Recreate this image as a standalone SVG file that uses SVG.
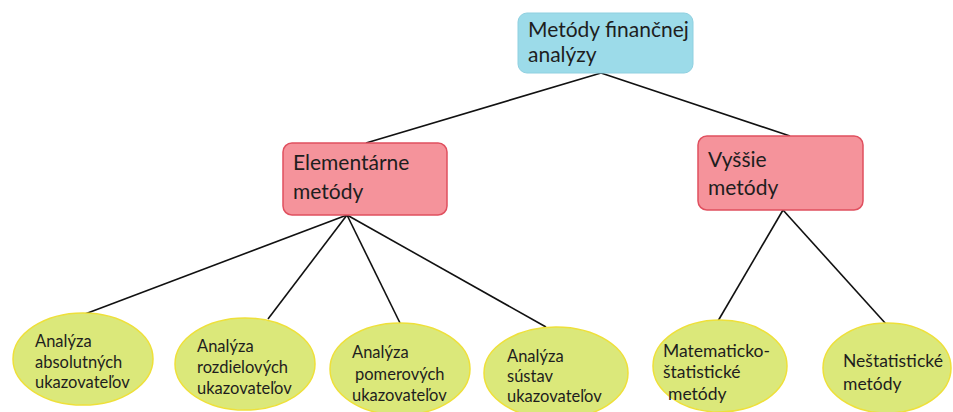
<svg xmlns="http://www.w3.org/2000/svg" width="953" height="412" viewBox="0 0 953 412">
<style>
text{font-family:Lato,"Liberation Sans","DejaVu Sans",sans-serif;fill:#1e1e1e}
.top{fill:#9cdbe9;stroke:#8fd0e0;stroke-width:1}
.mid{fill:#f5939b;stroke:#e0505f;stroke-width:1.5}
.leaf{fill:#dbe87a;stroke:#eee03a;stroke-width:1.5}
.c line{stroke:#111;stroke-width:1.6}
.t1{font-size:21px}
.t2{font-size:21px}
.t3{font-size:16.5px}
.t4{font-size:17.5px}
</style>
<rect width="953" height="412" fill="#fff"/>
<g class="c">
<line x1="601" y1="73" x2="366" y2="143"/>
<line x1="601" y1="73" x2="790" y2="136"/>
<line x1="347" y1="215" x2="85" y2="314"/>
<line x1="347" y1="215" x2="268" y2="319"/>
<line x1="347" y1="215" x2="400" y2="323"/>
<line x1="347" y1="215" x2="546" y2="327"/>
<line x1="783" y1="210" x2="718" y2="321"/>
<line x1="783" y1="210" x2="886" y2="324"/>
</g>
<g id="n-root">
<rect class="top" x="518" y="13" width="175" height="60" rx="9"/>
<text class="t1" x="528" y="37">Metódy finančnej</text>
<text class="t1" x="528" y="62">analýzy</text>
</g>
<g id="n-elem">
<rect class="mid" x="283" y="143" width="164" height="72" rx="9"/>
<text class="t2" x="293" y="170">Elementárne</text>
<text class="t2" x="293" y="199">metódy</text>
</g>
<g id="n-vyssie">
<rect class="mid" x="698" y="136" width="165" height="74" rx="9"/>
<text class="t2" x="708" y="167">Vyššie</text>
<text class="t2" x="708" y="195">metódy</text>
</g>
<g id="n-abs">
<ellipse class="leaf" cx="83" cy="359" rx="70" ry="46"/>
<text class="t3" x="35" y="347">Analýza</text>
<text class="t3" x="35" y="368">absolutných</text>
<text class="t3" x="35" y="388">ukazovateľov</text>
</g>
<g id="n-roz">
<ellipse class="leaf" cx="245" cy="364" rx="70" ry="46"/>
<text class="t3" x="197" y="352">Analýza</text>
<text class="t3" x="197" y="373">rozdielových</text>
<text class="t3" x="197" y="394">ukazovateľov</text>
</g>
<g id="n-pom">
<ellipse class="leaf" cx="400" cy="369" rx="70" ry="46"/>
<text class="t3" x="352" y="358">Analýza</text>
<text class="t3" x="355" y="380">pomerových</text>
<text class="t3" x="352" y="401">ukazovateľov</text>
</g>
<g id="n-sus">
<ellipse class="leaf" cx="556" cy="373" rx="72" ry="46"/>
<text class="t3" x="507" y="362">Analýza</text>
<text class="t3" x="507" y="382">sústav</text>
<text class="t3" x="507" y="402">ukazovateľov</text>
</g>
<g id="n-mat">
<ellipse class="leaf" cx="720" cy="366" rx="67" ry="46"/>
<text class="t4" x="663" y="357">Matematicko-</text>
<text class="t4" x="663" y="378">štatistické</text>
<text class="t4" x="668" y="400">metódy</text>
</g>
<g id="n-nes">
<ellipse class="leaf" cx="887" cy="368" rx="64" ry="45"/>
<text class="t4" x="843" y="367">Neštatistické</text>
<text class="t4" x="843" y="390">metódy</text>
</g>
</svg>
